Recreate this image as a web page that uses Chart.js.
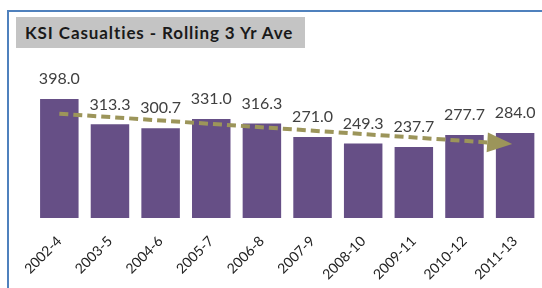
<!DOCTYPE html>
<html>
<head>
<meta charset="utf-8">
<script src="https://cdn.jsdelivr.net/npm/chart.js@4/dist/chart.umd.min.js"></script>
<style>
  html, body { margin: 0; padding: 0; background: #ffffff; }
  #wrap { position: relative; width: 542px; height: 288px; overflow: hidden; }
  #frame { position: absolute; left: 7px; top: 10px; width: 540px; height: 290px;
           border-left: 2px solid #4F81BD; border-top: 2px solid #4F81BD; box-sizing: border-box; }
  #title { position: absolute; left: 16px; top: 17px; width: 289px; height: 31px;
           background: #C4C4C4; font-family: Lato, "Open Sans", sans-serif; font-weight: bold;
           font-size: 17px; letter-spacing: 0.9px; color: #1a1a1a; line-height: 31px; padding-left: 9px;
           box-sizing: border-box; white-space: nowrap; }
  canvas { position: absolute; left: 0; top: 0; }
</style>
</head>
<body>
<div id="wrap">
  <div id="frame"></div>
  <div id="title">KSI Casualties - Rolling 3 Yr Ave</div>
  <canvas id="c" width="542" height="288"></canvas>
</div>
<script>
const categories = ["2002-4","2003-5","2004-6","2005-7","2006-8","2007-9","2008-10","2009-11","2010-12","2011-13"];
const casualties = [398.0, 313.3, 300.7, 331.0, 316.3, 271.0, 249.3, 237.7, 277.7, 284.0];
const trendX = [0, 8.45];
const trendY = [349, 253];

const barColor = '#664F86';
const trendColor = '#9C955A';

const valueLabels = {
  id: 'valueLabels',
  afterDatasetsDraw(chart) {
    const ctx = chart.ctx;
    const meta = chart.getDatasetMeta(1);
    ctx.save();
    ctx.font = '16px Lato, "Open Sans", sans-serif';
    ctx.fillStyle = '#404040';
    ctx.textAlign = 'center';
    ctx.textBaseline = 'middle';
    meta.data.forEach((el, i) => {
      ctx.fillText(casualties[i].toFixed(1), el.x, el.y - 20);
    });
    ctx.restore();
  }
};

const arrowHead = {
  id: 'arrowHead',
  afterDatasetsDraw(chart) {
    const meta = chart.getDatasetMeta(0);
    const pts = meta.data;
    if (pts.length < 2) return;
    const a = pts[pts.length - 2], b = pts[pts.length - 1];
    const ang = Math.atan2(b.y - a.y, b.x - a.x);
    const len = 25, half = 10;
    const ctx = chart.ctx;
    ctx.save();
    ctx.translate(b.x, b.y);
    ctx.rotate(ang);
    ctx.beginPath();
    ctx.moveTo(len, 0);
    ctx.lineTo(0, -half);
    ctx.lineTo(0, half);
    ctx.closePath();
    ctx.fillStyle = trendColor;
    ctx.fill();
    ctx.restore();
  }
};

new Chart(document.getElementById('c'), {
  data: {
    labels: categories,
    datasets: [
      {
        type: 'line',
        order: 0,
        xAxisID: 'x2',
        data: trendX.map((x, i) => ({ x: x, y: trendY[i] })),
        borderColor: trendColor,
        borderWidth: 4,
        borderDash: [9, 5],
        pointRadius: 0,
        fill: false
      },
      {
        type: 'bar',
        order: 1,
        xAxisID: 'x',
        grouped: false,
        data: casualties,
        backgroundColor: barColor,
        barPercentage: 0.76,
        categoryPercentage: 1.0
      }
    ]
  },
  options: {
    responsive: false,
    animation: false,
    events: [],
    layout: { padding: { left: 34, right: 0, top: 86.5, bottom: 0 } },
    plugins: { legend: { display: false }, tooltip: { enabled: false } },
    scales: {
      x: {
        type: 'category',
        offset: true,
        grid: { display: false, drawTicks: false },
        border: { display: false },
        ticks: {
          minRotation: 45, maxRotation: 45, padding: 15,
          color: '#222222',
          font: { family: 'Lato, "Open Sans", sans-serif', size: 14 }
        },
        afterFit(scale) { scale.height = 70; }
      },
      x2: {
        type: 'linear',
        display: false,
        min: -0.5, max: 9.5
      },
      y: {
        display: false,
        min: 0, max: 440
      }
    }
  },
  plugins: [valueLabels, arrowHead]
});
</script>
</body>
</html>
